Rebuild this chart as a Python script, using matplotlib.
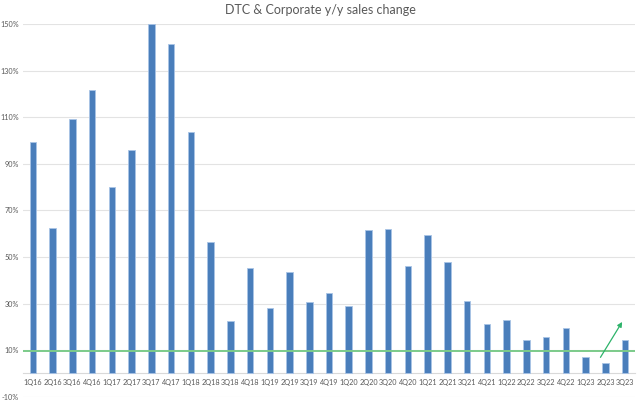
import numpy as np
import matplotlib
matplotlib.use("Agg")
import matplotlib.pyplot as plt

quarters = ["1Q16", "2Q16", "3Q16", "4Q16", "1Q17", "2Q17", "3Q17", "4Q17",
            "1Q18", "2Q18", "3Q18", "4Q18", "1Q19", "2Q19", "3Q19", "4Q19",
            "1Q20", "2Q20", "3Q20", "4Q20", "1Q21", "2Q21", "3Q21", "4Q21",
            "1Q22", "2Q22", "3Q22", "4Q22", "1Q23", "2Q23", "3Q23"]
sales_change = [99.4, 62.5, 109.2, 121.8, 80.0, 96.0, 150.0, 141.3,
                103.7, 56.5, 22.6, 45.2, 27.9, 43.4, 30.7, 34.7,
                28.9, 61.4, 61.9, 46.3, 59.4, 48.0, 31.0, 21.1,
                22.9, 14.2, 15.5, 19.6, 6.9, 4.4, 14.2]
threshold = 9.7
arrow_start = (28.75, 6.9)
arrow_end = (29.85, 22.1)
yticks = [-10, 10, 30, 50, 70, 90, 110, 130, 150]

plt.rcParams['font.family'] = ['Lato', 'DejaVu Sans']

fig = plt.figure(figsize=(6.4, 4.04), dpi=100)
ax = fig.add_axes([23/640, 7.3/404, 612/640, 372.7/404])

x = np.arange(len(quarters))
ax.bar(x, sales_change, width=0.33, color='#4A7EBB', edgecolor='#A9C4E6', linewidth=0.6, zorder=3)

ax.axhline(threshold, color='#7CCB8A', linewidth=1.4, zorder=4)
ax.annotate("", xy=arrow_end, xytext=arrow_start,
            arrowprops=dict(arrowstyle='-|>', color='#2DB36A', lw=0.9,
                            mutation_scale=7, shrinkA=0, shrinkB=0), zorder=5)

ax.set_xlim(-0.5, len(quarters) - 0.5)
ax.set_ylim(-10, 150)
ax.set_yticks(yticks)
ax.set_yticklabels([f"{v}%" for v in yticks])
ax.yaxis.grid(True, color='#E3E3E3', linewidth=0.8, zorder=0)
ax.set_axisbelow(True)

ax.spines['bottom'].set_position(('data', 0))
ax.spines['bottom'].set_color('#D9D9D9')
for s in ['top', 'right', 'left']:
    ax.spines[s].set_visible(False)

ax.set_xticks(x)
ax.set_xticklabels(quarters)
ax.tick_params(axis='x', length=0, pad=4, labelsize=5.2, labelcolor='#595959')
ax.tick_params(axis='y', length=0, pad=3, labelsize=5.2, labelcolor='#595959')

fig.text(0.5, 0.975, "DTC & Corporate y/y sales change", ha='center', va='center',
         fontsize=9, color='#595959')

fig.savefig("out.png", dpi=100)
